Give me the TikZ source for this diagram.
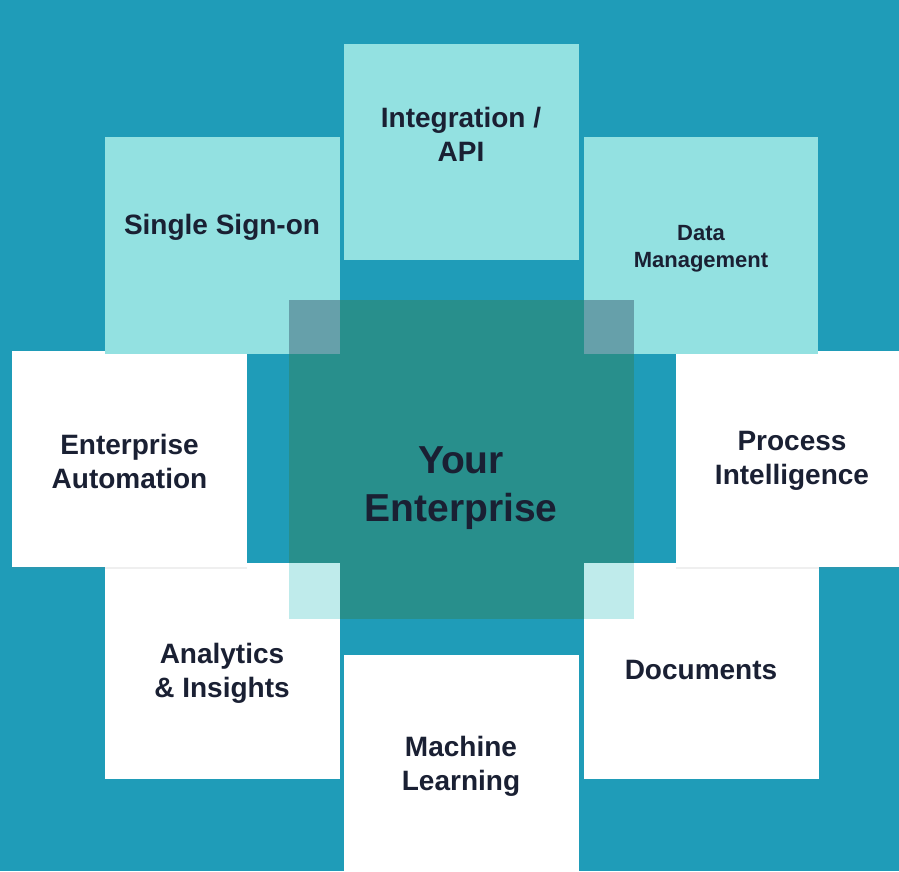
\documentclass[tikz,border=0pt]{standalone}
\usepackage{fontspec}
\setmainfont{Liberation Sans}
\usepackage{tikz}
\usetikzlibrary{positioning,shadows}

\definecolor{bgblue}{HTML}{1F9CB8}
\definecolor{tilecyan}{HTML}{93E1E1}
\definecolor{coreteal}{HTML}{288F8C}
\definecolor{cornertop}{HTML}{66A0AA}
\definecolor{cornerlow}{HTML}{BFEBEB}
\definecolor{inkblue}{HTML}{1A2033}

\begin{document}
\begin{tikzpicture}[x=1pt,y=-1pt,
		tile/.style={rectangle,inner sep=0pt,outer sep=0pt,minimum width=235pt,minimum height=216pt},
		cyantile/.style={tile,fill=tilecyan},
		whitetile/.style={tile,fill=white},
		shadowtile/.style={whitetile,drop shadow={shadow xshift=0pt,shadow yshift=-2.5pt,opacity=0.12}},
		tilelabel/.style={align=center,text=inkblue,inner sep=0pt,font=\bfseries\fontsize{28}{34}\selectfont}]
		
		\useasboundingbox (0,0) rectangle (899,871);
		\clip (0,0) rectangle (899,871);
		\fill[bgblue] (0,0) rectangle (899,871);
		
		% lower ring
		\node[whitetile] (analytics) at (222.5,670.5) {};
		\node[whitetile] (documents) at (701.5,670.5) {};
		\node[whitetile] (learning) at (461.5,763) {};
		\node[shadowtile] (automation) at (129.5,458.5) {};
		\node[shadowtile] (process) at (793.5,458.5) {};
		
		% upper ring
		\node[cyantile] (integration) at (461.5,152) {};
		\node[cyantile,minimum height=217pt] (signon) at (222.5,245.5) {};
		\node[cyantile,minimum width=234pt,minimum height=217pt] (datamgmt) at (701,245.5) {};
		
		% core
		\node[rectangle,fill=coreteal,inner sep=0pt,outer sep=0pt,minimum width=345pt,minimum height=319pt] (core) at (461.5,459.5) {};
		\fill[cornertop] (core.north west) rectangle (signon.south east);
		\fill[cornertop] (core.north east) rectangle (datamgmt.south west);
		\fill[cornerlow] (core.south west) rectangle (analytics.north east);
		\fill[cornerlow] (core.south east) rectangle (documents.north west);
		
		\node[tilelabel] (integration-text) at (461,134.5) {Integration /\\API};
		\node[tilelabel] (signon-text) at (222,227.5) {Single Sign-on};
		\node[tilelabel,font=\bfseries\fontsize{22}{27}\selectfont] (datamgmt-text) at (701,249) {Data\\Management};
		\node[tilelabel] (automation-text) at (129.5,461) {Enterprise\\Automation};
		\node[tilelabel] (process-text) at (792,461) {Process\\Intelligence};
		\node[tilelabel,font=\bfseries\fontsize{39}{48}\selectfont] (core-text) at (461,488) {Your\\Enterprise};
		\node[tilelabel] (analytics-text) at (222,673) {Analytics\\\& Insights};
		\node[tilelabel] (documents-text) at (701,670) {Documents};
		\node[tilelabel] (learning-text) at (461,766.5) {Machine\\Learning};
		\end{tikzpicture}
\end{document}
